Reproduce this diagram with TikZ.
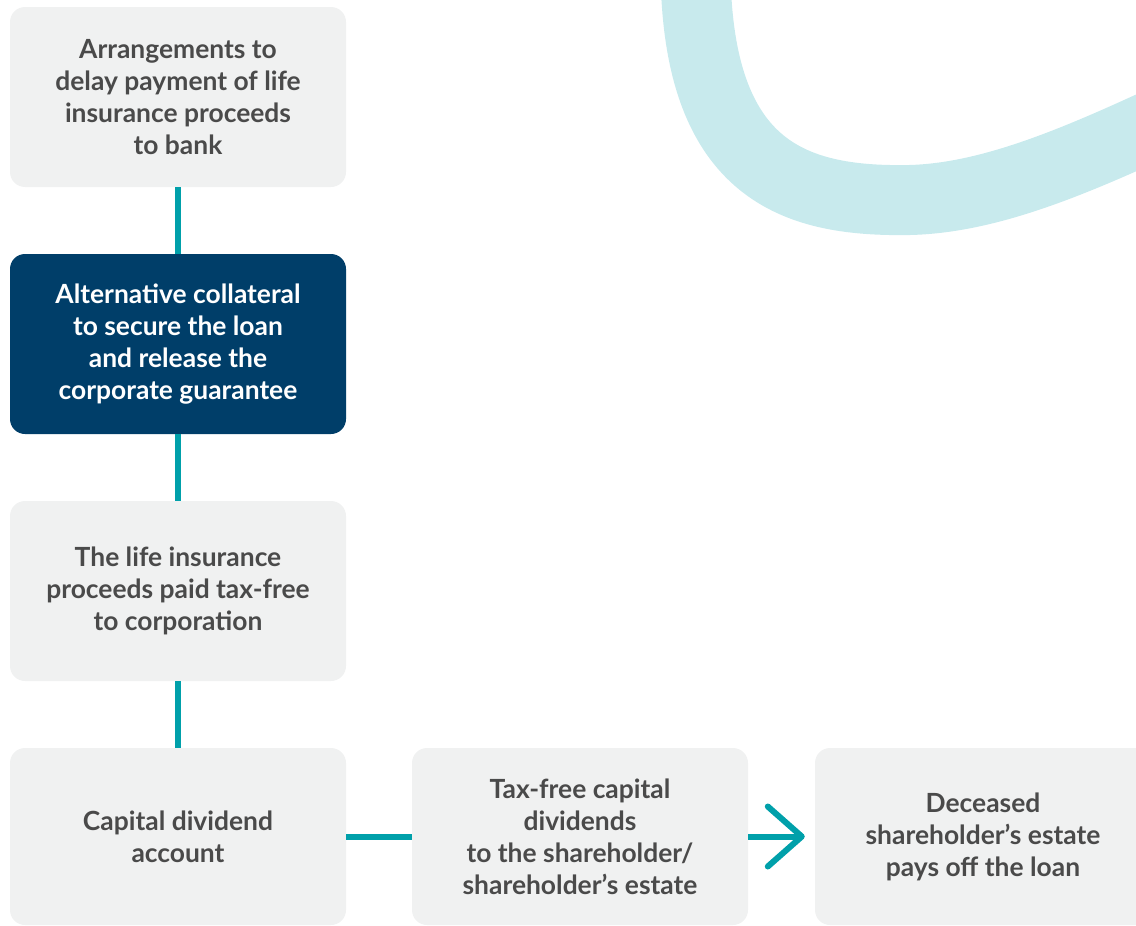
\documentclass[tikz,border=0pt]{standalone}
\usepackage{fontspec}
\setmainfont{Lato}
\usetikzlibrary{arrows.meta}

\definecolor{Cteal}{HTML}{00A0AA}
\definecolor{Cnavy}{HTML}{003E69}
\definecolor{Cswirl}{HTML}{C8EAED}
\definecolor{Cboxgrey}{HTML}{F0F1F1}
\definecolor{Ctextgrey}{HTML}{4A4A4A}

\tikzset{
	stepbox/.style={rounded corners=15pt,fill=Cboxgrey,text=Ctextgrey,
		minimum width=336pt,minimum height=180pt,align=center,inner sep=0pt,
		font=\fontsize{26.4pt}{32pt}\selectfont\bfseries},
	keybox/.style={stepbox,fill=Cnavy,text=white},
	link/.style={line width=6pt,Cteal}
}

\begin{document}
\begin{tikzpicture}[x=1pt,y=-1pt]
		\useasboundingbox (0,0) rectangle (1136,926);
		\draw[line width=70pt,Cswirl]
		(696,-10) .. controls (704,175) and (800,202) .. (910,200)
		.. controls (985,198) and (1065,166) .. (1160,122);

		\node[stepbox] (delay) at (178,97)
		{Arrangements to\\delay payment of life\\insurance proceeds\\to bank};
		\node[keybox] (collateral) at (178,344)
		{Alternative collateral\\to secure the loan\\and release the\\corporate guarantee};
		\node[stepbox] (proceeds) at (178,591)
		{The life insurance\\proceeds paid tax-free\\to corporation};
		\node[stepbox,minimum height=177pt] (account) at (178,836.5)
		{Capital dividend\\account};
		\node[stepbox,minimum height=177pt] (dividends) at (580,836.5)
		{Tax-free capital\\dividends\\to the shareholder/\\shareholder’s estate};
		\node[stepbox,minimum height=177pt] (estate) at (983,836.5)
		{Deceased\\shareholder’s estate\\pays off the loan};

		\draw[link] (delay) -- (collateral);
		\draw[link] (collateral) -- (proceeds);
		\draw[link] (proceeds) -- (account);
		\draw[link] (account) -- (dividends);
		\draw[link,-{Straight Barb[length=34pt,width=60pt,round]},shorten >=10pt]
		(dividends) -- (estate);
	\end{tikzpicture}
\end{document}
